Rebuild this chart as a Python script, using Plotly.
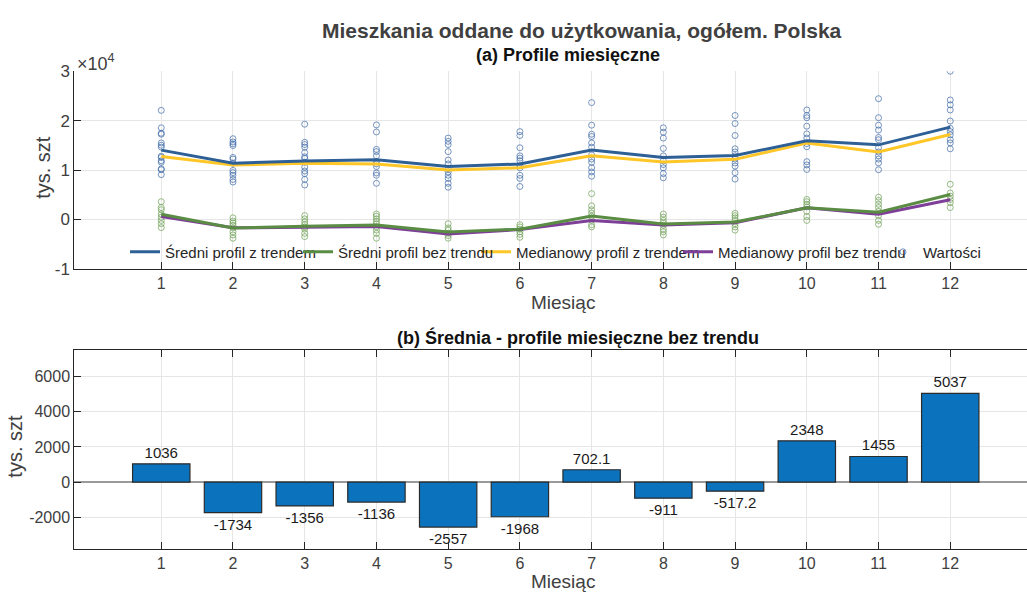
import plotly.graph_objects as go

months = list(range(1, 13))
month_labels = [str(m) for m in months]

mean_with_trend = [14030, 11370, 11820, 12080, 10700, 11230, 14030, 12540, 12940, 15940, 15100, 18690]
median_with_trend = [12740, 11040, 11370, 11230, 10000, 10450, 12870, 11630, 12160, 15490, 13650, 17180]
mean_no_trend = [1036, -1734, -1356, -1136, -2557, -1968, 702.1, -911, -517.2, 2348, 1455, 5037]
median_no_trend = [590, -1700, -1570, -1450, -2940, -2040, -200, -1120, -670, 2350, 1040, 3980]

values_with_trend = [
    [22080, 18550, 17450, 17250, 15490, 15020, 14630, 12800, 12550, 11880, 11570, 10250, 10060, 9080],
    [16340, 15690, 15300, 14960, 12550, 12220, 11370, 9920, 9470, 8940, 8100, 7570],
    [19280, 15610, 15160, 14630, 13530, 12670, 12350, 11570, 10590, 9800, 9280, 8100, 6980],
    [19140, 17710, 14180, 13730, 12870, 11690, 11240, 10710, 9410, 8940, 7310],
    [16470, 15810, 15160, 13730, 12020, 11240, 10250, 9610, 8940, 8300, 7310, 6530],
    [17770, 16990, 14510, 12870, 12410, 11880, 10900, 10450, 8940, 8300, 6670],
    [23650, 19080, 17250, 16790, 15490, 14630, 13060, 12220, 11570, 10450, 9610, 8750],
    [18550, 17650, 16470, 14370, 12870, 11880, 11110, 10450, 9280, 8430],
    [21040, 19410, 16990, 14300, 13650, 12870, 12220, 11430, 10790, 9470, 8160],
    [22160, 21040, 20590, 18880, 17320, 16470, 15350, 14710, 11690, 11040, 10120],
    [24440, 20590, 19080, 18100, 16590, 16140, 14510, 13650, 12870, 12220, 11430, 10060],
    [30000, 24180, 23200, 22160, 19920, 18430, 17770, 17120, 16140, 15490, 14300],
]
values_no_trend = [
    [3590, 2410, 1960, 1100, 450, -200, -860, -1650],
    [320, -330, -730, -1180, -1710, -2490, -3140, -3800],
    [780, 120, -530, -1060, -1510, -1960, -2820, -3470],
    [1100, 650, 120, -390, -860, -1510, -2160, -2820, -3800],
    [-860, -1710, -2160, -2820, -3270, -3800],
    [-1060, -1510, -1960, -2490, -3020, -3610],
    [5220, 2750, 1960, 1290, 650, -200, -1060, -1510],
    [1100, 450, -200, -730, -1180, -1960, -2490, -3140],
    [1240, 780, 320, -200, -860, -1510, -2160],
    [4040, 3590, 3060, 2550, 1630, 590, -200],
    [4510, 3840, 3060, 2410, 1630, 780, -200, -980],
    [7120, 5350, 4710, 4040, 3390, 2410],
]

top_yticks = [-10000, 0, 10000, 20000, 30000]
top_yticktext = ["-1", "0", "1", "2", "3"]
bot_yticks = [-2000, 0, 2000, 4000, 6000]
bot_yticktext = ["-2000", "0", "2000", "4000", "6000"]

FONT = "Liberation Sans, Arial, sans-serif"
GRAY = "#404040"
AX = "#262626"
W, H = 1027, 599

def flatten(groups):
    xs, ys = [], []
    for m, vals in zip(months, groups):
        for v in vals:
            xs.append(m)
            ys.append(v)
    return xs, ys

fig = go.Figure()

sx, sy = flatten(values_with_trend)
gx, gy = flatten(values_no_trend)

fig.add_trace(go.Scatter(x=gx, y=gy, mode="markers", showlegend=False,
                         marker=dict(symbol="circle-open", size=6, color="rgba(110,160,85,0.8)",
                                     line=dict(width=0.9)),
                         xaxis="x", yaxis="y"))
fig.add_trace(go.Scatter(x=sx, y=sy, mode="markers", name="Wartości", legend="legend5",
                         marker=dict(symbol="circle-open", size=6, color="rgba(65,108,170,0.8)",
                                     line=dict(width=0.9)),
                         xaxis="x", yaxis="y"))

line_specs = {
    "mwt": ("Średni profil z trendem", mean_with_trend, "#2E6096", "legend"),
    "mnt": ("Średni profil bez trendu", mean_no_trend, "#5A8C44", "legend2"),
    "dwt": ("Medianowy profil z trendem", median_with_trend, "#FFC627", "legend3"),
    "dnt": ("Medianowy profil bez trendu", median_no_trend, "#7E3F98", "legend4"),
}
for key in ["dwt", "dnt", "mwt", "mnt"]:
    name, vals, col, leg = line_specs[key]
    fig.add_trace(go.Scatter(x=months, y=vals, mode="lines", name=name, legend=leg,
                             line=dict(color=col, width=3), xaxis="x", yaxis="y"))

bar_text = ["%.4g" % v for v in mean_no_trend]
fig.add_trace(go.Bar(x=months, y=mean_no_trend, width=0.8, showlegend=False,
                     marker=dict(color="#0B72BD", line=dict(color="#2b2b2b", width=1.2)),
                     text=bar_text, textposition="outside", cliponaxis=False,
                     textfont=dict(family=FONT, size=15, color="#1a1a1a"),
                     xaxis="x2", yaxis="y2"))

xr = [-0.213, 13.07]
common_x = dict(range=xr, tickvals=months, ticktext=month_labels, ticks="inside", ticklen=7,
                tickcolor=AX, showline=True, linecolor=AX, linewidth=1,
                showgrid=True, gridcolor="#E6E6E6", gridwidth=1, zeroline=False,
                tickfont=dict(family=FONT, size=16, color=GRAY))

# text start pixel positions of the legend entries in the reference
legend_text_x = [166, 339, 517, 719, 924]
legend_y = 1 - 251 / H

def leg(px):
    return dict(orientation="h", x=(px - 41) / W, y=legend_y, xanchor="left", yanchor="middle",
                bgcolor="rgba(0,0,0,0)", borderwidth=0,
                font=dict(family=FONT, size=15, color="#262626"), itemwidth=30)

fig.update_layout(
    width=W, height=H,
    margin=dict(l=0, r=0, t=0, b=0),
    paper_bgcolor="white", plot_bgcolor="white",
    font=dict(family=FONT, color=GRAY),
    xaxis=dict(domain=[0.0723, 1.0], anchor="y", **common_x),
    yaxis=dict(domain=[0.552, 0.8927], anchor="x", range=[-10000, 30000],
               tickvals=top_yticks, ticktext=top_yticktext, ticks="inside", ticklen=7,
               tickcolor=AX, showline=True, linecolor=AX, linewidth=1,
               showgrid=True, gridcolor="#E6E6E6", zeroline=False,
               tickfont=dict(family=FONT, size=17, color=GRAY)),
    xaxis2=dict(domain=[0.0723, 1.0], anchor="y2", mirror="ticks", **common_x),
    yaxis2=dict(domain=[0.0696, 0.4119], anchor="x2", range=[-3780, 7500],
                tickvals=bot_yticks, ticktext=bot_yticktext, ticks="inside", ticklen=7,
                tickcolor=AX, showline=True, linecolor=AX, linewidth=1,
                showgrid=True, gridcolor="#E6E6E6", zeroline=True,
                zerolinecolor="#9a9a9a", zerolinewidth=1.5,
                tickfont=dict(family=FONT, size=16, color=GRAY)),
    legend=leg(legend_text_x[0]),
    legend2=leg(legend_text_x[1]),
    legend3=leg(legend_text_x[2]),
    legend4=leg(legend_text_x[3]),
    legend5=leg(legend_text_x[4]),
    showlegend=True,
    bargap=0.2,
)

ann = [
    dict(text="<b>Mieszkania oddane do użytkowania, ogółem. Polska</b>", x=582/W, y=1-22/H,
         font=dict(size=21, color=GRAY, family=FONT)),
    dict(text="<b>(a) Profile miesięczne</b>", x=568/W, y=1-48/H,
         font=dict(size=18, color="#111111", family=FONT)),
    dict(text="<b>(b) Średnia - profile miesięczne bez trendu</b>", x=578/W, y=1-339/H,
         font=dict(size=18, color="#111111", family=FONT)),
    dict(text="Miesiąc", x=563/W, y=1-303/H, font=dict(size=19, color=GRAY, family=FONT)),
    dict(text="Miesiąc", x=563/W, y=1-591/H, font=dict(size=19, color=GRAY, family=FONT)),
    dict(text="tys. szt", x=43/W, y=1-164/H, textangle=-90,
         font=dict(size=20, color=GRAY, family=FONT)),
    dict(text="tys. szt", x=15/W, y=1-452/H, textangle=-90,
         font=dict(size=20, color=GRAY, family=FONT)),
    dict(text="×10<sup>4</sup>", x=75/W, y=1-55/H, xanchor="left",
         font=dict(size=18, color=GRAY, family=FONT)),
]
for a in ann:
    a.setdefault("xanchor", "center")
    a.update(xref="paper", yref="paper", yanchor="middle", showarrow=False)
fig.update_layout(annotations=ann)

fig.write_html("out.html")
